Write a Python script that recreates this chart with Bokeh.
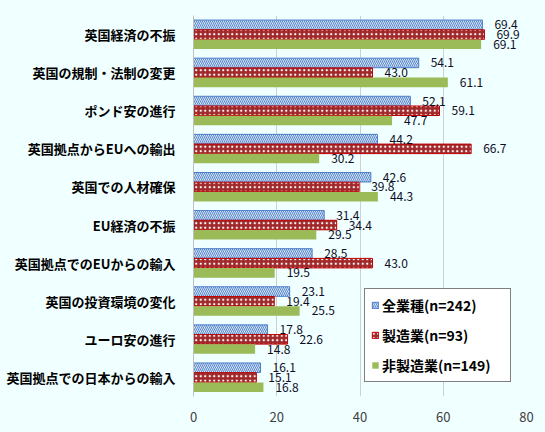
from bokeh.plotting import figure
from bokeh.models import ColumnDataSource, FactorRange, Range1d, Legend, LegendItem, FixedTicker
from bokeh.transform import dodge
from bokeh.embed import file_html
from bokeh.resources import INLINE
from bokeh.core.properties import value

categories = [
    "英国経済の不振",
    "英国の規制・法制の変更",
    "ポンド安の進行",
    "英国拠点からEUへの輸出",
    "英国での人材確保",
    "EU経済の不振",
    "英国拠点でのEUからの輸入",
    "英国の投資環境の変化",
    "ユーロ安の進行",
    "英国拠点での日本からの輸入",
]
all_industries = [69.4, 54.1, 52.1, 44.2, 42.6, 31.4, 28.5, 23.1, 17.8, 16.1]
manufacturing = [69.9, 43.0, 59.1, 66.7, 39.8, 34.4, 43.0, 19.4, 22.6, 15.1]
non_manufacturing = [69.1, 61.1, 47.7, 30.2, 44.3, 29.5, 19.5, 25.5, 14.8, 16.8]
series_names = ["全業種(n=242)", "製造業(n=93)", "非製造業(n=149)"]
x_ticks = [0, 20, 40, 60, 80]

BG = "#F0FFFF"
FONT = "Noto Sans CJK JP"

src = ColumnDataSource(dict(
    cat=categories,
    a=all_industries, m=manufacturing, n=non_manufacturing,
    al=[f"{v:.1f}" for v in all_industries],
    ml=[f"{v:.1f}" for v in manufacturing],
    nl=[f"{v:.1f}" for v in non_manufacturing],
))

p = figure(width=545, height=432, output_backend="svg", toolbar_location=None,
           y_range=FactorRange(*categories[::-1], range_padding=0),
           x_range=Range1d(0, 80),
           min_border_left=193, min_border_right=19, min_border_top=15, min_border_bottom=36)
p.background_fill_color = BG
p.border_fill_color = BG
p.outline_line_color = None

h = 0.25
off = 0.255
r_a = p.hbar(y=dodge("cat", off, range=p.y_range), right="a", left=0, height=h, source=src,
             fill_color="white", line_color="#4A7EC8", line_width=1,
             hatch_pattern="left_diagonal_line", hatch_color="#5B8BD0", hatch_scale=4, hatch_weight=1.2)
r_m = p.hbar(y=dodge("cat", 0, range=p.y_range), right="m", left=0, height=h, source=src,
             fill_color="#A0282A", line_color="#C00000", line_width=1,
             hatch_pattern="dot", hatch_color="white", hatch_scale=4.5, hatch_weight=0.9)
r_n = p.hbar(y=dodge("cat", -off, range=p.y_range), right="n", left=0, height=h, source=src,
             fill_color="#9BBB59", line_color=None)

for col, lab, o in [("a", "al", off), ("m", "ml", 0), ("n", "nl", -off)]:
    p.text(x=col, y=dodge("cat", o, range=p.y_range), text=lab, source=src,
           x_offset=12, text_align="left", text_baseline="middle",
           text_font=value(FONT), text_font_size="12px", text_color="#0D0D26")

p.xaxis.ticker = FixedTicker(ticks=x_ticks)
p.xaxis.axis_line_color = None
p.xaxis.major_tick_line_color = None
p.xaxis.minor_tick_line_color = None
p.xaxis.major_label_text_font = FONT
p.xaxis.major_label_text_font_size = "13px"
p.xaxis.major_label_text_color = "#404040"
p.xaxis.major_label_standoff = 9

p.yaxis.axis_line_color = "#BFBFBF"
p.yaxis.major_tick_line_color = None
p.yaxis.minor_tick_line_color = None
p.yaxis.major_label_text_font = FONT
p.yaxis.major_label_text_font_size = "13px"
p.yaxis.major_label_text_font_style = "bold"
p.yaxis.major_label_text_color = "#000000"
p.yaxis.major_label_standoff = 12

p.ygrid.grid_line_color = None
p.xgrid.grid_line_color = "#D0D0D0"
p.xgrid.ticker = FixedTicker(ticks=x_ticks)

legend = Legend(items=[LegendItem(label=series_names[0], renderers=[r_a]),
                       LegendItem(label=series_names[1], renderers=[r_m]),
                       LegendItem(label=series_names[2], renderers=[r_n])],
                location=(171, 14))
legend.border_line_color = "black"
legend.border_line_width = 1
legend.background_fill_color = "white"
legend.background_fill_alpha = 1
legend.glyph_width = 8
legend.glyph_height = 8
legend.label_text_font = FONT
legend.label_text_font_size = "14px"
legend.label_text_font_style = "bold"
legend.label_text_color = "#000000"
legend.label_height = 17
legend.label_width = 122
legend.spacing = 10
legend.padding = 6
legend.margin = 0
legend.label_standoff = 3
p.add_layout(legend, "center")

html = file_html(p, INLINE)
html = html.replace("<head>", "<head><style>html,body{background:#F0FFFF;}</style>", 1)
open("out.html", "w").write(html)
